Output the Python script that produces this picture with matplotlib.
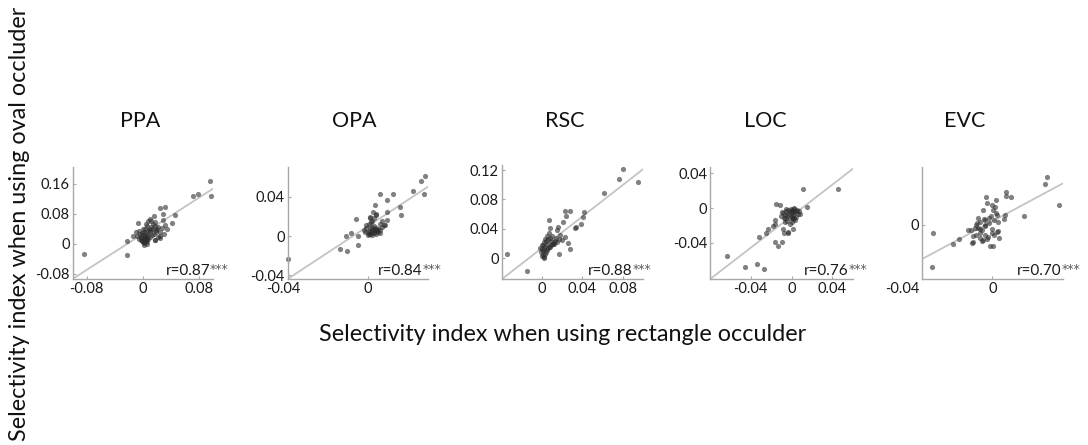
import matplotlib
matplotlib.use("Agg")
import matplotlib.pyplot as plt
from matplotlib.transforms import ScaledTranslation
import numpy as np

plt.rcParams['font.family'] = ['Lato', 'DejaVu Sans']

regions = ["PPA", "OPA", "RSC", "LOC", "EVC"]
r_values = ["0.87", "0.84", "0.88", "0.76", "0.70"]

# selectivity index: rectangle occluder (x) vs oval occluder (y)
ppa_x = [0.0953, 0.0976, 0.0716, 0.0787, -0.0839, -0.0223, -0.0232, 0.0455, 0.0417, 0.0242,
         0.0322, 0.0289, 0.0289, 0.0156, -0.0066, -0.0137, 0.0171, 0.0242, 0.0194,
         0.000, 0.002, -0.002, 0.004, 0.001, -0.003, 0.006, 0.003, 0.000, 0.008,
         0.005, -0.004, 0.010, 0.007, 0.012, 0.002, -0.001, 0.015, 0.011, 0.018,
         0.014, 0.009, 0.020, 0.022, 0.017, 0.012, 0.006, 0.003, -0.006, -0.005,
         0.001, 0.004, -0.001, 0.003, 0.006, 0.008, 0.010, 0.013, 0.016, 0.019,
         0.025, 0.028, 0.030, 0.021, 0.018, 0.024, -0.008, -0.010, 0.000, 0.005,
         0.008, 0.010, 0.002, 0.006, 0.032, 0.035, 0.001, -0.002, 0.004]
ppa_y = [0.1669, 0.1270, 0.1270, 0.1330, -0.0277, -0.0303, 0.0059, 0.0758, 0.0537, 0.0961,
         0.0979, 0.0802, 0.0625, 0.0731, 0.0554, 0.0201, 0.0095, 0.0201, 0.0360,
         0.005, 0.008, 0.010, 0.012, 0.015, 0.018, 0.016, 0.020, 0.022, 0.024,
         0.027, 0.025, 0.030, 0.033, 0.036, 0.030, 0.028, 0.040, 0.044, 0.048,
         0.052, 0.040, 0.038, 0.045, 0.058, 0.060, 0.046, 0.038, 0.035, 0.012,
         0.002, 0.004, 0.006, 0.009, 0.008, 0.013, 0.018, 0.022, 0.026, 0.030,
         0.032, 0.042, 0.025, 0.018, 0.010, 0.015, 0.020, 0.030, 0.040, 0.052,
         0.060, 0.065, -0.003, -0.002, 0.050, 0.040, 0.011, 0.014, 0.017]

opa_x = [-0.0400, -0.0140, -0.0106, -0.0110, -0.0082, -0.0048, -0.0048, -0.0060, -0.0015, -0.0010,
         0.0010, 0.0035, 0.0040, 0.0060, 0.0093, 0.0126, 0.0093, 0.0093, 0.0084, 0.0068,
         0.0060, 0.0159, 0.0164, 0.0225, 0.0267, 0.0283, 0.0280,
         0.000, 0.001, 0.002, 0.003, 0.004, 0.005, 0.006, 0.001, 0.002, 0.003,
         0.004, 0.000, 0.001, 0.002, 0.003, 0.004, 0.005, 0.0005, 0.0015, 0.0025,
         0.0035, 0.0045, 0.002, 0.003, 0.001, 0.004, 0.0025, 0.006, 0.007, 0.008,
         -0.002, -0.001, 0.0005, 0.0015]
opa_y = [-0.0237, -0.0136, -0.0153, 0.0000, 0.0027, 0.0000, -0.0092, 0.0170, 0.0044, 0.0112,
         0.0180, 0.0315, 0.0230, 0.0434, 0.0366, 0.0434, 0.0247, 0.0163, 0.0112, 0.0153,
         0.0061, 0.0298, 0.0214, 0.0461, 0.0563, 0.0614, 0.0427,
         0.001, 0.002, 0.001, 0.003, 0.002, 0.004, 0.003, 0.005, 0.006, 0.007,
         0.005, 0.004, 0.008, 0.009, 0.010, 0.008, 0.007, 0.002, 0.003, 0.004,
         0.006, 0.006, 0.015, 0.018, 0.020, 0.022, 0.025, 0.012, 0.009, 0.011,
         0.006, 0.008, 0.012, 0.014]

rsc_x = [-0.0344, -0.0153, 0.0802, 0.0763, 0.0951, 0.0611, 0.0417, 0.0407, 0.0384, 0.0341,
         0.0325, 0.0226, 0.0276, 0.0242, 0.0210, 0.0068, 0.0160, 0.0144, 0.0078, 0.0276,
         0.0170, 0.0226, 0.0193, 0.0177, 0.0259,
         0.001, 0.000, 0.002, -0.001, 0.003, 0.001, 0.004, 0.002, 0.005, 0.006,
         0.007, 0.008, 0.009, 0.010, 0.011, 0.012, 0.013, 0.003, 0.005, 0.000,
         -0.002, 0.001, 0.004, 0.006, 0.008, 0.010, 0.002, 0.014, 0.012, 0.009,
         0.005, 0.003, 0.007, 0.015, 0.017, 0.000, 0.002]
rsc_y = [0.0059, -0.0168, 0.1214, 0.1074, 0.1042, 0.0892, 0.0625, 0.0566, 0.0467, 0.0421,
         0.0408, 0.0648, 0.0643, 0.0580, 0.0498, 0.0521, 0.0430, 0.0385, 0.0408, 0.0127,
         0.0059, 0.0294, 0.0249, 0.0317, 0.0204,
         0.005, 0.003, 0.002, 0.008, 0.006, 0.010, 0.008, 0.012, 0.011, 0.014,
         0.016, 0.015, 0.018, 0.020, 0.019, 0.022, 0.024, 0.016, 0.020, 0.012,
         0.014, 0.018, 0.024, 0.026, 0.028, 0.030, 0.001, 0.028, 0.020, 0.024,
         0.030, 0.026, 0.035, 0.022, 0.026, 0.018, 0.022]

loc_x = [-0.0636, -0.0457, -0.0342, -0.0270, -0.0316, -0.0251, -0.0228, -0.0179, -0.0162, -0.0129,
         -0.0097, -0.0162, -0.0162, -0.0156, -0.0113, -0.0080, -0.0074, -0.0031, -0.0031, 0.0018,
         0.0116, 0.0459, 0.0155, 0.0083, -0.0064,
         0.000, 0.001, 0.002, -0.001, -0.002, 0.003, 0.001, 0.000, -0.003, 0.002,
         0.004, -0.004, -0.005, -0.006, -0.007, -0.008, 0.005, 0.006, 0.003, 0.000,
         -0.002, 0.001, -0.004, -0.006, -0.009, -0.010, 0.002, 0.004, 0.007, -0.001,
         0.000, -0.003, 0.001, -0.002, -0.005]
loc_y = [-0.0549, -0.0682, -0.0648, -0.0697, -0.0339, -0.0293, -0.0236, -0.0210, -0.0389, -0.0438,
         -0.0389, -0.0141, -0.0179, 0.0050, 0.0030, -0.0236, -0.0293, -0.0274, -0.0293, -0.0236,
         0.0221, 0.0213, 0.0011, -0.0065, -0.0160,
         -0.002, -0.003, -0.001, -0.004, -0.006, -0.005, -0.008, -0.010, -0.007, -0.012,
         -0.003, -0.009, -0.004, -0.008, -0.011, -0.006, -0.002, -0.007, -0.014, -0.016,
         -0.018, -0.012, -0.015, -0.012, -0.005, -0.009, 0.000, -0.010, -0.004, -0.001,
         -0.006, -0.002, -0.013, -0.011, -0.001]

evc_x = [-0.0344, -0.0338, -0.0225, -0.0187, -0.0136, -0.0118, -0.0108, -0.0089, -0.0071, -0.0052,
         -0.0037, -0.0029, -0.0003, 0.0020, 0.0016, 0.0005, -0.0014, 0.0001, 0.0076, 0.0080,
         0.0108, 0.0071, 0.0065, 0.0024, 0.0033, 0.0024, 0.0180, 0.0296, 0.0310, 0.0375,
         -0.0042, -0.0024, -0.0042, -0.0071, -0.0093, -0.0052,
         -0.008, -0.006, -0.004, -0.002, 0.000, 0.001, -0.009, -0.011, -0.007, -0.003,
         -0.005, -0.001, 0.002, 0.003, -0.006, -0.010, -0.008, 0.001, -0.002, 0.004,
         -0.012, -0.004, 0.000, -0.007]
evc_y = [-0.0297, -0.0055, -0.0134, -0.0097, -0.0036, -0.0129, -0.0118, 0.0010, 0.0022, 0.0103,
         0.0191, 0.0149, 0.0138, 0.0172, 0.0126, 0.0103, -0.0148, -0.0148, 0.0231, 0.0201,
         0.0196, 0.0068, 0.0038, 0.0068, -0.0041, -0.0048, 0.0064, 0.0284, 0.0330, 0.0138,
         -0.0002, -0.0083, -0.0072, -0.0060, -0.0072, -0.0106,
         -0.002, -0.004, -0.001, 0.001, -0.006, 0.003, 0.000, -0.008, -0.003, -0.010,
         0.004, 0.006, 0.008, 0.002, -0.011, -0.002, 0.005, -0.007, 0.005, -0.009,
         -0.004, 0.003, -0.003, -0.009]

# least-squares fit lines (slope, intercept)
fit_slope = [1.20, 1.344, 1.068, 0.906, 0.661]
fit_intercept = [0.0263, 0.0101, 0.0142, -0.0094, 0.0024]

x_limits = [(-0.1, 0.1), (-0.04, 0.03), (-0.04, 0.1), (-0.08, 0.06), (-0.04, 0.04)]
y_limits = [(-0.094, 0.204), (-0.0437, 0.0705), (-0.0285, 0.1268), (-0.082, 0.0475), (-0.038, 0.04)]
x_ticks = [[-0.08, 0, 0.08], [-0.04, 0], [0, 0.04, 0.08], [-0.04, 0, 0.04], [-0.04, 0]]
y_ticks = [[-0.08, 0, 0.08, 0.16], [-0.04, 0, 0.04], [0, 0.04, 0.08, 0.12], [-0.04, 0, 0.04], [0]]

xs = [ppa_x, opa_x, rsc_x, loc_x, evc_x]
ys = [ppa_y, opa_y, rsc_y, loc_y, evc_y]


def fmt(v):
    if v == 0:
        return "0"
    return f"{v:.2f}"


W, H = 1088, 445
fig = plt.figure(figsize=(W / 100, H / 100), dpi=100)

# axes boxes in pixels: left, top, right, bottom
boxes = [(72.7, 167, 213, 279), (287.7, 167, 428, 279), (501.7, 165, 643, 279.3),
         (710, 166.7, 852.7, 279.3), (921.7, 167.3, 1063, 279.3)]
title_x = [140, 354, 564.7, 765, 965]
r_right = [0.979, 0.959, 0.925, 0.969, 0.991]
xlabel_shift = [0, -4.5, 0, 0, -19]

spine_col = '#a8a8a8'
for i, (l, t, r, b) in enumerate(boxes):
    ax = fig.add_axes([l / W, 1 - b / H, (r - l) / W, (b - t) / H])
    ax.set_xlim(*x_limits[i])
    ax.set_ylim(*y_limits[i])
    for s in ('top', 'right'):
        ax.spines[s].set_visible(False)
    for s in ('left', 'bottom'):
        ax.spines[s].set_color(spine_col)
        ax.spines[s].set_linewidth(1.0)
    ax.set_xticks(x_ticks[i])
    ax.set_xticklabels([fmt(v) for v in x_ticks[i]])
    ax.set_yticks(y_ticks[i])
    ax.set_yticklabels([fmt(v) for v in y_ticks[i]])
    ax.tick_params(direction='in', length=2, width=0.8, color=spine_col,
                   labelsize=10.5, labelcolor='#1a1a1a', pad=2)
    if xlabel_shift[i]:
        lab = ax.get_xticklabels()[0]
        lab.set_transform(lab.get_transform() +
                          ScaledTranslation(xlabel_shift[i] / 100, 0, fig.dpi_scale_trans))

    xx = np.linspace(x_limits[i][0], x_limits[i][1], 50)
    ax.plot(xx, fit_slope[i] * xx + fit_intercept[i], color='#c4c4c4', lw=1.3, zorder=1)
    ax.scatter(xs[i], ys[i], s=14, color='#2e2e2e', alpha=0.6, linewidths=0, zorder=2,
               clip_on=False)

    rt = ax.text(r_right[i], 0.038, "r=" + r_values[i], transform=ax.transAxes,
                 ha='right', va='baseline', fontsize=11, color='#1a1a1a')
    ax.annotate("***", xy=(1.0, 1.0), xycoords=rt, ha='left', va='top',
                xytext=(0, 0.5), textcoords='offset points',
                fontsize=9, family='DejaVu Sans', color='#5a5a5a')

    fig.text(title_x[i] / W, 1 - 127 / H, regions[i], ha='center', va='baseline',
             fontsize=15.5, color='#111111')

fig.text(562.5 / W, 1 - 341 / H, "Selectivity index when using rectangle occulder",
         ha='center', va='baseline', fontsize=16.8, color='#111111')
fig.text(19.5 / W, 1 - 224 / H, "Selectivity index when using oval occluder",
         ha='center', va='center', rotation=90, fontsize=16.8, color='#111111')

fig.savefig("out.png", dpi=100)
